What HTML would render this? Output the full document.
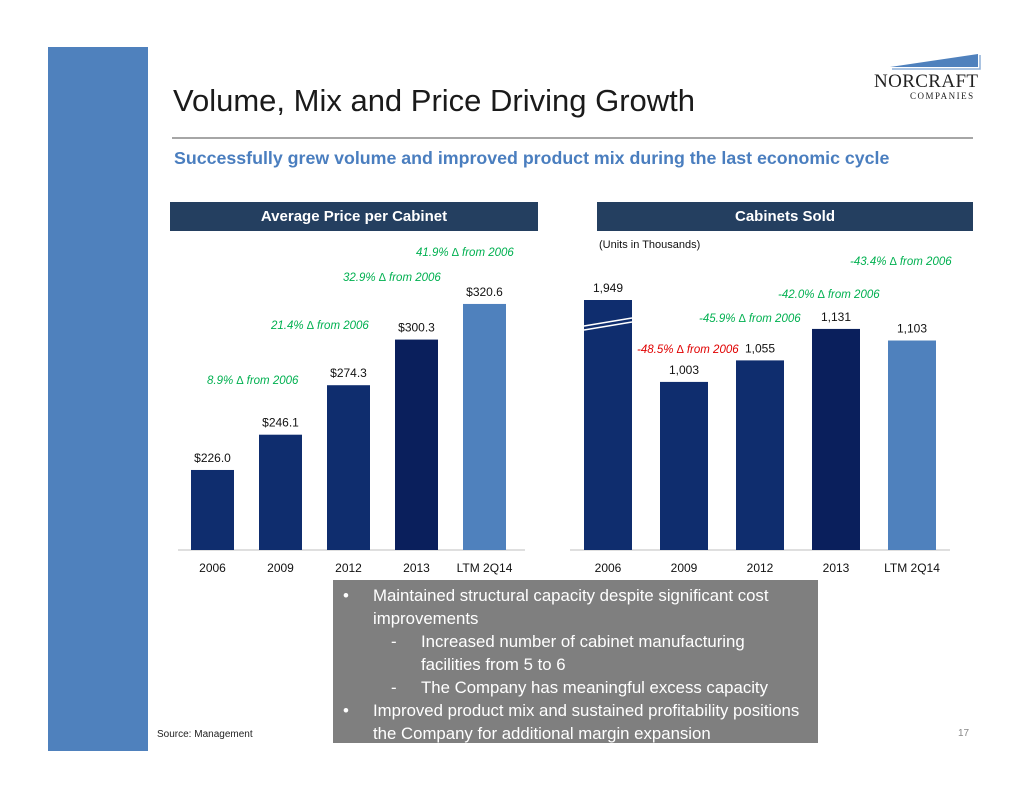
<!DOCTYPE html>
<html><head><meta charset="utf-8"><style>
body{margin:0;width:1034px;height:799px;background:#fff;position:relative;overflow:hidden;font-family:"Liberation Sans",sans-serif}
.abs{position:absolute}
.hdr{position:absolute;top:202px;height:29px;background:#243f60;color:#fff;font-weight:bold;font-size:15px;line-height:29px;text-align:center}
</style></head><body>
<div class="abs" style="left:48px;top:47px;width:100px;height:704px;background:#4f81bd"></div>
<div class="abs" style="left:173px;top:83px;font-size:31px;color:#1a1a1a">Volume, Mix and Price Driving Growth</div>
<div class="abs" style="left:172px;top:137px;width:801px;height:2px;background:#a6a6a6"></div>
<div class="abs" style="left:174px;top:148px;font-size:17.8px;font-weight:bold;color:#4a7ebf">Successfully grew volume and improved product mix during the last economic cycle</div>
<svg class="abs" style="left:870px;top:52px" width="112" height="50">
<polygon points="20,15 108,2 108,15" fill="#4f81bd"/>
<polyline points="22,17 110,17 110,3" fill="none" stroke="#8fb0d9" stroke-width="1.5"/>
<text x="4" y="35" font-family="Liberation Serif,serif" font-size="19" textLength="104" fill="#222">NORCRAFT</text>
<text x="40" y="47" font-family="Liberation Serif,serif" font-size="9" letter-spacing="1.5" fill="#222">COMPANIES</text>
</svg>
<div class="hdr" style="left:170px;width:368px">Average Price per Cabinet</div>
<div class="hdr" style="left:597px;width:376px">Cabinets Sold</div>
<svg class="abs" id="ch" style="left:0;top:0" width="1034" height="799"></svg>
<div class="abs" style="left:333px;top:580px;width:485px;height:163px;background:#7f7f7f;color:#fff;font-size:16.8px;line-height:23px">
<div style="position:absolute;left:10px;top:4px">•</div><div style="position:absolute;left:40px;top:4px;width:440px">Maintained structural capacity despite significant cost improvements</div>
<div style="position:absolute;left:58px;top:50px">-</div><div style="position:absolute;left:88px;top:50px;width:380px">Increased number of cabinet manufacturing facilities from 5 to 6</div>
<div style="position:absolute;left:58px;top:96px">-</div><div style="position:absolute;left:88px;top:96px">The Company has meaningful excess capacity</div>
<div style="position:absolute;left:10px;top:119px">•</div><div style="position:absolute;left:40px;top:119px;width:445px">Improved product mix and sustained profitability positions the Company for additional margin expansion</div>
</div>
<div class="abs" style="left:157px;top:729px;font-size:10px;color:#222">Source: Management</div>
<div class="abs" style="left:958px;top:728px;font-size:10px;color:#888">17</div>
<script>
const cats=["2006","2009","2012","2013","LTM 2Q14"];
const priceVals=[226.0,246.1,274.3,300.3,320.6];
const priceLabels=["$226.0","$246.1","$274.3","$300.3","$320.6"];
const priceGrowth=["","8.9% \u2206 from 2006","21.4% \u2206 from 2006","32.9% \u2206 from 2006","41.9% \u2206 from 2006"];
const unitVals=[1949,1003,1055,1131,1103];
const unitLabels=["1,949","1,003","1,055","1,131","1,103"];
const unitGrowth=["","-48.5% \u2206 from 2006","-45.9% \u2206 from 2006","-42.0% \u2206 from 2006","-43.4% \u2206 from 2006"];
const colors=["#0f2d6e","#0f2d6e","#0f2d6e","#0a1f5c","#4f81bd"];
const svg=document.getElementById('ch');const NS="http://www.w3.org/2000/svg";
function mk(t,a,txt){const e=document.createElementNS(NS,t);for(const k in a)e.setAttribute(k,a[k]);if(txt!==undefined)e.textContent=txt;svg.appendChild(e);return e;}
const base=550;
const yP=v=>base-(v-180.4)*1.755;
const xP=i=>191+i*68;
mk('line',{x1:178,x2:525,y1:base,y2:base,stroke:'#bfbfbf'});
const gPosL=[null,[207,384],[271,329],[343,281],[416,256]];
priceVals.forEach((v,i)=>{
 const r=mk('rect',{x:xP(i),y:yP(v),width:43,height:base-yP(v),fill:colors[i]});
 
 
 const l=mk('text',{x:xP(i)+21.5,y:yP(v)-8,'text-anchor':'middle','font-size':12,fill:'#111'},priceLabels[i]);
 
 
 const c=mk('text',{x:xP(i)+21.5,y:572,'text-anchor':'middle','font-size':12,fill:'#111'},cats[i]);
 
 
 if(priceGrowth[i]){const g=mk('text',{x:gPosL[i][0],y:gPosL[i][1],'font-size':11.5,'font-style':'italic',fill:'#00b050'},priceGrowth[i]);
 
 }
});
const yU=v=>base-(Math.min(v,1200)-597)*0.414;
const xU=i=>584+i*76;
mk('line',{x1:570,x2:950,y1:base,y2:base,stroke:'#bfbfbf'});
const hU=v=>v>1500?250:base-yU(v);
const gPos=[null,[637,353,'#e00000'],[699,322,'#00b050'],[778,298,'#00b050'],[850,265,'#00b050']];
unitVals.forEach((v,i)=>{
 const h=hU(v);
 const r=mk('rect',{x:xU(i),y:base-h,width:48,height:h,fill:colors[i]});
 
 
 const l=mk('text',{x:xU(i)+24,y:base-h-8,'text-anchor':'middle','font-size':12,fill:'#111'},unitLabels[i]);
 
 
 const c=mk('text',{x:xU(i)+24,y:572,'text-anchor':'middle','font-size':12,fill:'#111'},cats[i]);
 
 
 if(unitGrowth[i]){const g=mk('text',{x:gPos[i][0],y:gPos[i][1],'font-size':11.5,'font-style':'italic',fill:gPos[i][2]},unitGrowth[i]);
 
 }
 if(v>1500){mk('line',{x1:xU(i),x2:xU(i)+48,y1:326,y2:318,stroke:'#fff','stroke-width':1.5});mk('line',{x1:xU(i),x2:xU(i)+48,y1:330,y2:322,stroke:'#fff','stroke-width':1.5});}
});
const u=mk('text',{x:599,y:248,'font-size':11,fill:'#111'},'(Units in Thousands)');


</script>
</body></html>
